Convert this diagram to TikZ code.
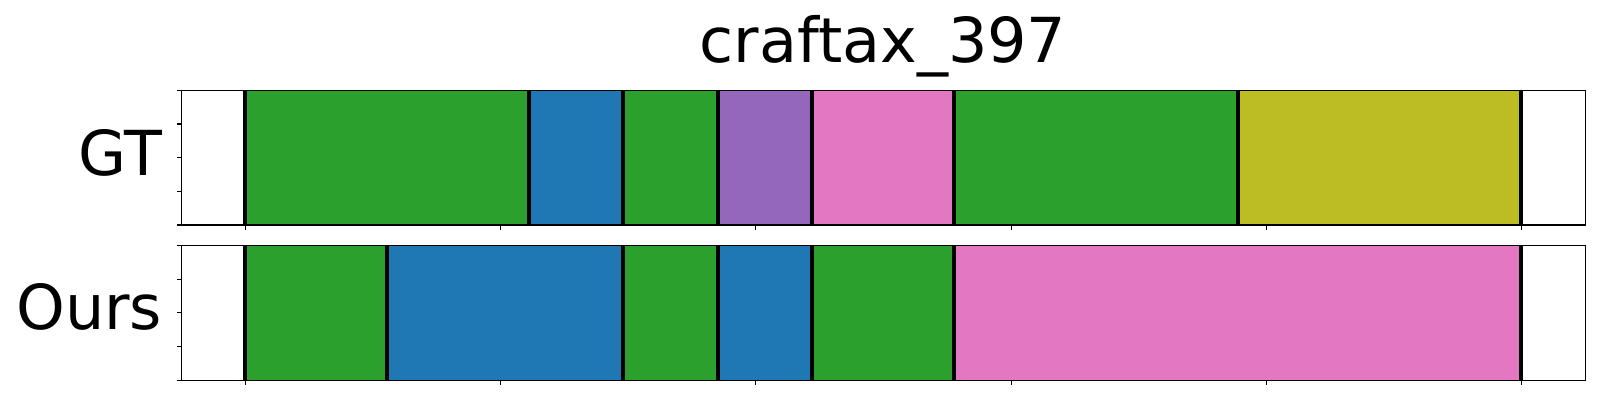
\documentclass[tikz,border=0pt]{standalone}
\usepackage{fontspec}
\setmainfont{DejaVu Sans}
\definecolor{tgreen}{HTML}{2CA02C}
\definecolor{tblue}{HTML}{1F77B4}
\definecolor{tpurple}{HTML}{9467BD}
\definecolor{tpink}{HTML}{E377C2}
\definecolor{tolive}{HTML}{BCBD22}
\tikzset{
  bigtext/.style={font=\fontsize{62}{74}\selectfont, inner sep=0pt},
  frame/.style={draw=black, line width=1.1pt},
  tickline/.style={draw=black, line width=1.1pt},
  segline/.style={draw=black, line width=4pt},
}
\begin{document}
\begin{tikzpicture}[x=1pt,y=-1pt]
\useasboundingbox[fill=white] (0,0) rectangle (1600,400);
% title
\node[bigtext, anchor=base] (title) at (883,62) {craftax\_397};
% row labels
\node[bigtext, anchor=base east] (gtlab) at (162.5,175) {GT};
\node[bigtext, anchor=base east] (ourslab) at (162.5,329.5) {Ours};
% GT segments
\def\gtop{90.3}\def\gbot{225}
\foreach \a/\b/\c in {244.7/529/tgreen, 529/622.7/tblue, 622.7/718/tgreen, 718/811.7/tpurple, 811.7/954/tpink, 954/1237.7/tgreen, 1237.7/1520.7/tolive}{
  \fill[\c] (\a,\gtop) rectangle (\b,\gbot);
}
\foreach \a in {244.7,529,622.7,718,811.7,954,1237.7,1520.7}{
  \draw[segline] (\a,\gtop) -- (\a,\gbot);
}
% Ours segments
\def\otop{245.3}\def\obot{380.3}
\foreach \a/\b/\c in {244.7/387/tgreen, 387/622.7/tblue, 622.7/718/tgreen, 718/811.7/tblue, 811.7/954/tgreen, 954/1520.7/tpink}{
  \fill[\c] (\a,\otop) rectangle (\b,\obot);
}
\foreach \a in {244.7,387,622.7,718,811.7,954,1520.7}{
  \draw[segline] (\a,\otop) -- (\a,\obot);
}
% frames
\draw[frame] (181.7,\gtop) rectangle (1585.3,\gbot);
\draw[frame] (181.7,\otop) rectangle (1585.3,\obot);
% ticks
\foreach \k in {0,...,5}{
  \draw[tickline] (245.5+255.2*\k,\gbot) -- ++(0,5);
  \draw[tickline] (245.5+255.2*\k,\obot) -- ++(0,5);
}
\foreach \k in {0,...,4}{
  \draw[tickline] (181.7,\gtop+33.675*\k) -- ++(-5,0);
  \draw[tickline] (181.7,\otop+33.75*\k) -- ++(-5,0);
}
\end{tikzpicture}
\end{document}
